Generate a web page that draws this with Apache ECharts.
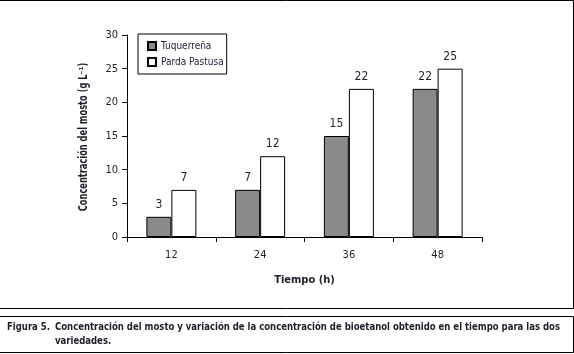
<!DOCTYPE html>
<html>
<head>
<meta charset="utf-8">
<script src="https://cdn.jsdelivr.net/npm/echarts@6/dist/echarts.min.js"></script>
<style>
  html, body { margin: 0; padding: 0; background: #fff; }
  #chart { width: 574px; height: 354px; }
</style>
</head>
<body>
<div id="chart"></div>
<script>
// datos
const tiempos = ['12', '24', '36', '48']
const tuquerrena = [3, 7, 15, 22]
const pardaPastusa = [7, 12, 22, 25]
const yTicks = [0, 5, 10, 15, 20, 25, 30]

const font = "'DejaVu Sans Condensed', 'Liberation Sans Narrow', sans-serif"
const txt = '#1e1e2a'

let myChart = echarts.init(document.getElementById('chart'))
let option = {
  animation: false,
  textStyle: { fontFamily: font, color: txt },
  grid: { left: 127, right: 92, top: 35, bottom: 117 },
  legend: {
    orient: 'vertical',
    left: 138,
    top: 34,
    padding: [7, 3, 7, 9],
    itemGap: 6,
    itemWidth: 8,
    itemHeight: 8,
    borderColor: '#000',
    borderWidth: 1,
    backgroundColor: '#fff',
    textStyle: { fontFamily: font, fontSize: 10, color: '#1a1a3a' },
    data: [
      { name: 'Tuquerreña', icon: 'rect' },
      { name: 'Parda Pastusa', icon: 'rect' }
    ]
  },
  xAxis: {
    type: 'category',
    data: tiempos,
    name: 'Tiempo (h)',
    nameLocation: 'middle',
    nameGap: 38,
    nameTextStyle: { fontFamily: font, fontSize: 11, fontWeight: 'bold', color: txt },
    axisLine: { lineStyle: { color: '#000', width: 1 } },
    axisTick: { show: true, length: 5, lineStyle: { color: '#000' } },
    axisLabel: { fontFamily: font, fontSize: 11, color: txt, margin: 13 }
  },
  yAxis: {
    type: 'value',
    min: 0,
    max: 30,
    interval: 5,
    axisLine: { show: true, lineStyle: { color: '#000', width: 1 } },
    axisTick: { show: true, length: 5, lineStyle: { color: '#000' } },
    splitLine: { show: false },
    axisLabel: {
      fontFamily: font, fontSize: 11, color: txt, margin: 9,
      formatter: v => yTicks.includes(v) ? String(v) : ''
    }
  },
  series: [
    {
      name: 'Tuquerreña',
      type: 'bar',
      data: tuquerrena,
      barWidth: 25,
      barGap: '0%',
      itemStyle: { color: '#8a8a8a', borderColor: '#000', borderWidth: 1 },
      label: { show: true, position: 'top', distance: 6, fontFamily: font, fontSize: 12, color: txt }
    },
    {
      name: 'Parda Pastusa',
      type: 'bar',
      data: pardaPastusa,
      barWidth: 25,
      barGap: '0%',
      itemStyle: { color: '#fff', borderColor: '#000', borderWidth: 1 },
      label: { show: true, position: 'top', distance: 6, fontFamily: font, fontSize: 12, color: txt }
    }
  ],
  graphic: [
    // marco del grafico
    { type: 'polyline', shape: { points: [[-2, 0.5], [573.5, 0.5], [573.5, 308.5], [-2, 308.5]] }, style: { stroke: '#000', fill: null, lineWidth: 1 } },
    // marco del pie de figura
    { type: 'polyline', shape: { points: [[-2, 316.5], [573.5, 316.5], [573.5, 352.5], [-2, 352.5]] }, style: { stroke: '#000', fill: null, lineWidth: 1 } },
    // titulo del eje y (condensado como en el original)
    {
      type: 'text', x: 84, y: 137, rotation: Math.PI / 2, scaleX: 0.8,
      style: { text: 'Concentración del mosto (g L⁻¹)', font: 'bold 11.5px ' + font, fill: txt, align: 'center', verticalAlign: 'middle' }
    },
    { type: 'text', x: 7, y: 322, scaleX: 0.86, style: { text: 'Figura 5.', font: 'bold 11px ' + font, fill: txt } },
    { type: 'text', x: 55, y: 322, scaleX: 0.86, style: { text: 'Concentración del mosto y variación de la concentración de bioetanol obtenido en el tiempo para las dos', font: 'bold 11px ' + font, fill: txt } },
    { type: 'text', x: 55, y: 336, scaleX: 0.86, style: { text: 'variedades.', font: 'bold 11px ' + font, fill: txt } }
  ]
}
myChart.setOption(option, true)
</script>
</body>
</html>
